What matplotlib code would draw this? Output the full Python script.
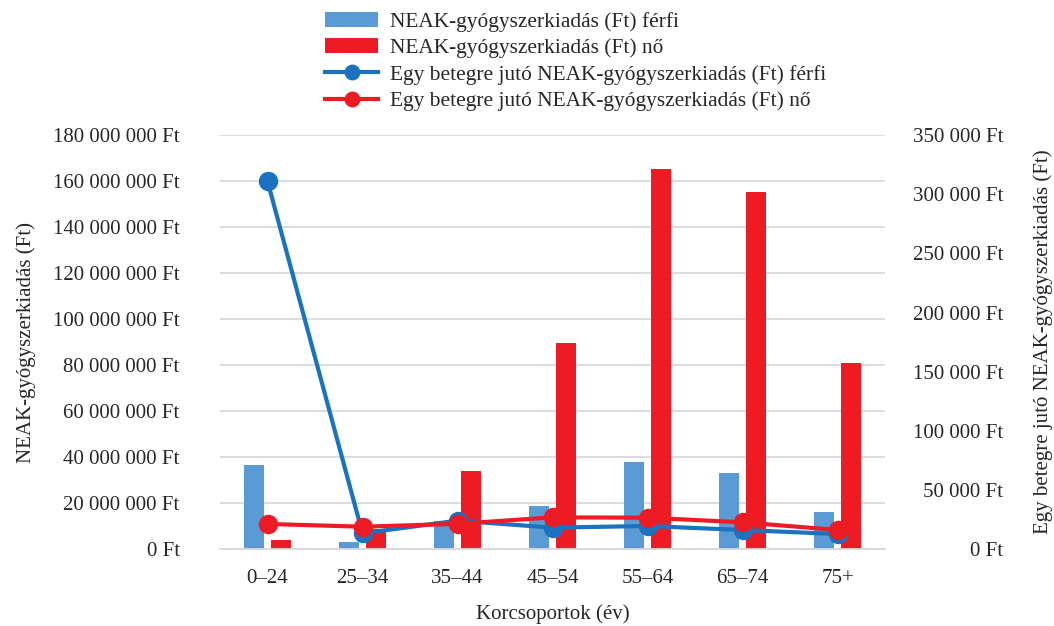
import numpy as np
import matplotlib
matplotlib.use("Agg")
import matplotlib.pyplot as plt
from matplotlib.ticker import FuncFormatter, MultipleLocator

plt.rcParams['font.family'] = ['Liberation Serif', 'DejaVu Serif']
plt.rcParams['font.size'] = 15

# data
categories = ['0–24', '25–34', '35–44', '45–54', '55–64', '65–74', '75+']
male_total = [36.7e6, 3.0e6, 12.3e6, 18.8e6, 38.0e6, 33.3e6, 16.2e6]
female_total = [4.2e6, 9.0e6, 34.2e6, 89.7e6, 165.3e6, 155.2e6, 80.9e6]
male_per = [311000, 13500, 24200, 18300, 19700, 16300, 12900]
female_per = [21400, 19100, 21500, 27000, 26700, 22800, 16300]

c_bar_m = '#5B9BD5'
c_bar_f = '#ED1C24'
c_line_m = '#1B72BE'
c_line_f = '#ED1C24'
txt = '#262626'
grid = '#D9D9D9'


def ft(v, pos):
    return f"{int(round(v)):,}".replace(",", " ") + " Ft"


fig = plt.figure(figsize=(10.54, 6.26), dpi=100)
ax = fig.add_axes([220/1054, 1-549.3/626, 665/1054, 414.3/626])
ax2 = ax.twinx()

x = np.arange(len(categories))
w = 0.22
b1 = ax.bar(x - 0.142, male_total, w, color=c_bar_m, label='NEAK-gyógyszerkiadás (Ft) férfi')
b2 = ax.bar(x + 0.142, female_total, w, color=c_bar_f, label='NEAK-gyógyszerkiadás (Ft) nő')

l1, = ax2.plot(x, male_per, color=c_line_m, lw=3, marker='o', ms=13,
               label='Egy betegre jutó NEAK-gyógyszerkiadás (Ft) férfi')
l2, = ax2.plot(x, female_per, color=c_line_f, lw=3, marker='o', ms=13,
               label='Egy betegre jutó NEAK-gyógyszerkiadás (Ft) nő')

ax.set_xlim(-0.5, len(categories) - 0.5)
ax.set_ylim(0, 180e6)
ax2.set_ylim(0, 350000)
ax.yaxis.set_major_locator(MultipleLocator(20e6))
ax2.yaxis.set_major_locator(MultipleLocator(50000))
ax.yaxis.set_major_formatter(FuncFormatter(ft))
ax2.yaxis.set_major_formatter(FuncFormatter(ft))

ax.set_axisbelow(True)
ax.grid(axis='y', color=grid, lw=1.3)
for a in (ax, ax2):
    for s in a.spines.values():
        s.set_visible(False)
ax.spines['bottom'].set_visible(True)
ax.spines['bottom'].set_color(grid)
ax.spines['bottom'].set_linewidth(1.3)

ax.set_xticks(x)
ax.set_xticklabels(categories)
ax.tick_params(axis='x', length=0, pad=14, colors=txt)
ax.tick_params(axis='y', length=0, pad=29, colors=txt)
ax2.tick_params(axis='y', length=0, pad=85, colors=txt)
for t in ax2.get_yticklabels():
    t.set_ha('right')

ax.set_xlabel('Korcsoportok (év)', color=txt, labelpad=12)
ax.set_ylabel('NEAK-gyógyszerkiadás (Ft)', color=txt, labelpad=12)
ax2.set_ylabel('Egy betegre jutó NEAK-gyógyszerkiadás (Ft)', color=txt, labelpad=22)

fig.legend(handles=[b1, b2, l1, l2], loc='upper left',
           bbox_to_anchor=(325/1054, 1-12/626), frameon=False,
           borderpad=0, borderaxespad=0, handlelength=2.5,
           handletextpad=0.55, labelspacing=0.3, markerscale=0.8,
           labelcolor=txt, fontsize=15.4)

fig.savefig('out.png', dpi=100)
